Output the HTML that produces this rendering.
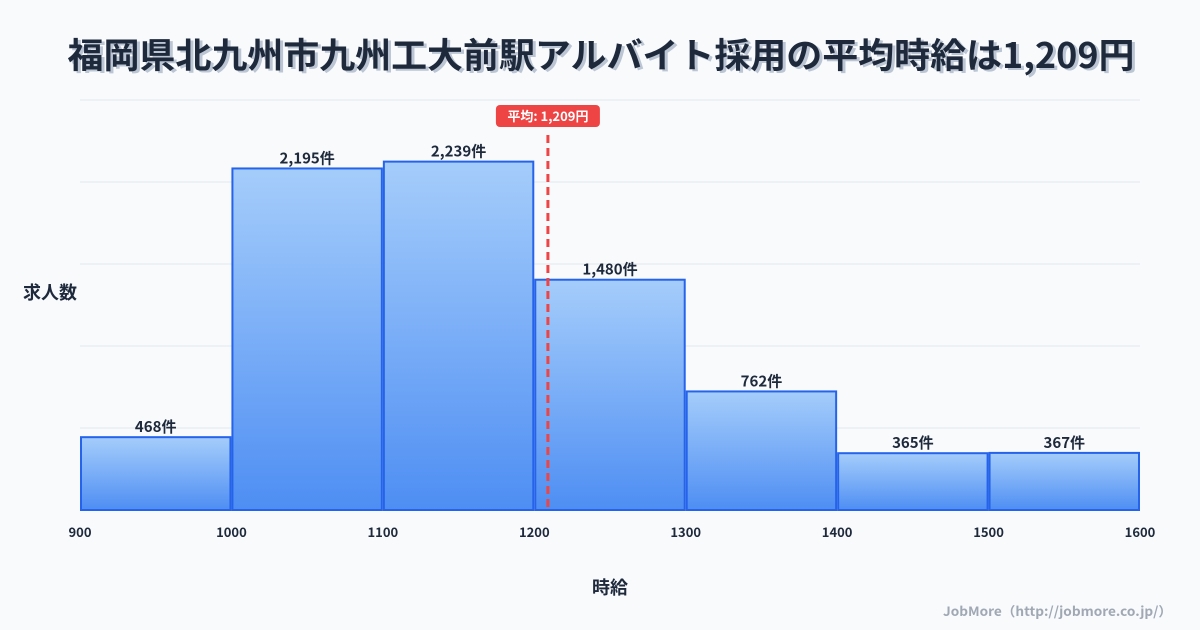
<!DOCTYPE html>
<html><head><meta charset="utf-8"><style>
body{margin:0;background:#f8fafc;}
svg{display:block;font-family:"Noto Sans CJK JP","Liberation Sans",sans-serif;}
</style></head><body>
<svg width="1200" height="630" viewBox="0 0 1200 630">
<defs><linearGradient id="g" x1="0" y1="0" x2="0" y2="1"><stop offset="0" stop-color="#a5cdfb"/><stop offset="1" stop-color="#4e8ef3"/></linearGradient></defs>
<rect width="1200" height="630" fill="#f8fafc"/>
<text x="604" y="70" text-anchor="middle" font-size="35" font-weight="bold" fill="#94a3b8" opacity="0.6" textLength="1067" lengthAdjust="spacingAndGlyphs">福岡県北九州市九州工大前駅アルバイト採用の平均時給は1,209円</text>
<text x="601" y="68" text-anchor="middle" font-size="35" font-weight="bold" fill="#1e293b" textLength="1067" lengthAdjust="spacingAndGlyphs">福岡県北九州市九州工大前駅アルバイト採用の平均時給は1,209円</text>
<g id="grid"></g>
<g id="bars"></g>
<g id="xt"></g>
<text x="50" y="299" text-anchor="middle" font-size="18" font-weight="bold" fill="#1e293b">求人数</text>
<text x="610" y="594" text-anchor="middle" font-size="18" font-weight="bold" fill="#1e293b">時給</text>
<text x="1172" y="616" text-anchor="end" font-size="13" font-weight="bold" fill="#a0a8b4" textLength="229" lengthAdjust="spacingAndGlyphs">JobMore（http://jobmore.co.jp/）</text>
<g id="mean"></g>
</svg>
<script>
const binStarts=[900,1000,1100,1200,1300,1400,1500];
const counts=[468,2195,2239,1480,762,365,367];
const xTicks=[900,1000,1100,1200,1300,1400,1500,1600];
const meanWage=1209;
const NS="http://www.w3.org/2000/svg";
const X0=80,X1=1140,XMIN=900,XMAX=1600,YB=510,YT=100,YMAX=2635;
const x=v=>X0+(v-XMIN)/(XMAX-XMIN)*(X1-X0);
const y=v=>YB-v/YMAX*(YB-YT);
function mk(t,a,p){const e=document.createElementNS(NS,t);for(const k in a)e.setAttribute(k,a[k]);document.getElementById(p).appendChild(e);return e;}
for(let i=0;i<=5;i++){const gy=YT+i*(YB-YT)/5;const l=mk('line',{x1:X0,x2:X1,y1:gy,y2:gy,stroke:'#e2e8f0','stroke-width':1},'grid');

}
binStarts.forEach((b,i)=>{
const r=mk('rect',{x:x(b)+1,y:y(counts[i]),width:x(b+100)-x(b)-2,height:YB-y(counts[i]),fill:'url(#g)',stroke:'#2563eb','stroke-width':2},'bars');


const t=mk('text',{x:(x(b)+x(b+100))/2,y:y(counts[i])-5,'text-anchor':'middle','font-size':15,'font-weight':'bold',fill:'#1e293b'},'bars');
t.textContent=counts[i].toLocaleString('en-US')+'件';


});
xTicks.forEach(v=>{const t=mk('text',{x:x(v),y:537,'text-anchor':'middle','font-size':13,'font-weight':'bold',fill:'#1e293b'},'xt');
t.textContent=v;

});
const mx=x(meanWage);
const ml=mk('line',{x1:mx,x2:mx,y1:135,y2:YB,stroke:'#ef4444','stroke-width':3,'stroke-dasharray':'8,5'},'mean');


const mb=mk('rect',{x:mx-52,y:105,width:104,height:22,rx:4,fill:'#ef4444'},'mean');


const mt=mk('text',{x:mx,y:121,'text-anchor':'middle','font-size':13,'font-weight':'bold',fill:'#fff'},'mean');
mt.textContent='平均: '+meanWage.toLocaleString('en-US')+'円';


</script>
</body></html>
